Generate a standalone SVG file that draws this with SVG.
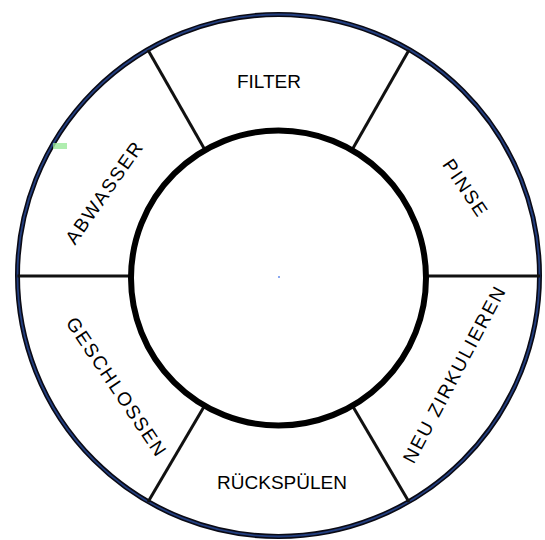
<svg xmlns="http://www.w3.org/2000/svg" width="545" height="540" viewBox="0 0 545 540">
<style>
.lbl{font-family:"Liberation Sans",Arial,sans-serif;font-size:19px;fill:#000;text-anchor:middle}
.rot{letter-spacing:1.8px}
.div{stroke:#111;stroke-width:3;fill:none}
</style>
<rect width="545" height="540" fill="#fff"/>
<g id="outer-ring">
<circle cx="278.5" cy="275.5" r="261" fill="#fff" stroke="#0a0a14" stroke-width="5"/>
<circle cx="278.5" cy="275.5" r="261" fill="none" stroke="#233f80" stroke-width="1.8"/>
</g>
<g id="connectors">
<line class="div" x1="17.5" y1="276" x2="131" y2="276"/>
<line class="div" x1="426" y1="276" x2="540" y2="276"/>
<line class="div" x1="148" y1="50" x2="205" y2="150"/>
<line class="div" x1="409" y1="50" x2="352" y2="150"/>
<line class="div" x1="148" y1="502" x2="205" y2="405"/>
<line class="div" x1="409" y1="502" x2="352" y2="405"/>
</g>
<g id="hub">
<circle cx="278.5" cy="278" r="147.5" fill="#fff" stroke="#000" stroke-width="6"/>
<rect x="278" y="276" width="2" height="2" fill="#8aa8f0"/>
</g>
<g id="filter"><text class="lbl" x="269" y="88">FILTER</text></g>
<g id="pinse"><text class="lbl rot" transform="translate(466,188) rotate(56)" y="7">PINSE</text></g>
<g id="neu-zirkulieren"><text class="lbl rot" transform="translate(454,374) rotate(-62)" y="7">NEU ZIRKULIEREN</text></g>
<g id="rueckspuelen"><text class="lbl" x="282" y="489">RÜCKSPÜLEN</text></g>
<g id="geschlossen"><text class="lbl rot" transform="translate(117,387) rotate(56)" y="7">GESCHLOSSEN</text></g>
<g id="abwasser"><text class="lbl rot" transform="translate(104,192) rotate(-55)" y="7">ABWASSER</text></g>
<rect x="53" y="143" width="14" height="6" fill="#9be89b" opacity="0.8"/>
</svg>
